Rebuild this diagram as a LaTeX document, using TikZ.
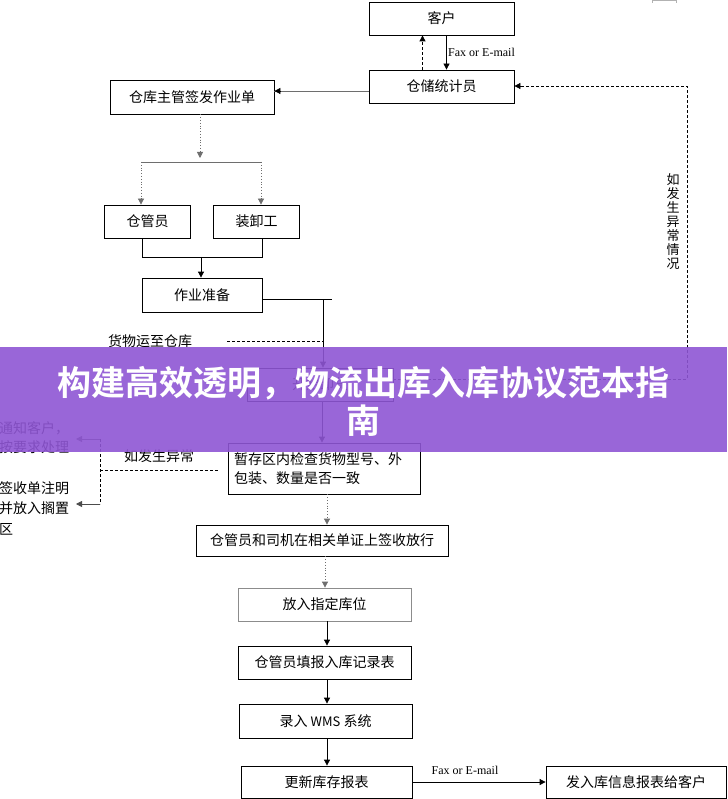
\documentclass[tikz,border=0pt]{standalone}
\usepackage{fontspec}
\setmainfont{Liberation Serif}
\newfontfamily\cjk{Noto Sans CJK SC}
\newfontfamily\cjkbold{Noto Sans CJK SC Bold}
\usetikzlibrary{arrows.meta}
\definecolor{bannerpurple}{RGB}{143,86,212}
\definecolor{linegray}{RGB}{110,110,110}
\begin{document}
\begin{tikzpicture}[x=1pt,y=-1pt,
  box/.style={draw=black,line width=0.8pt,inner sep=0pt,align=center,
    font=\cjk\fontsize{14}{16}\selectfont},
  lbl/.style={inner sep=0pt,font=\cjk\fontsize{14}{16}\selectfont},
  lat/.style={inner sep=0pt,font=\fontsize{12}{14}\selectfont},
  arr/.style={-{Triangle[length=6pt,width=6pt]}},
  solidline/.style={line width=0.8pt,draw=black},
  grayline/.style={line width=0.8pt,draw=linegray},
  dotline/.style={line width=0.8pt,draw=linegray,dotted},
  dashline/.style={line width=0.8pt,draw=black,dash pattern=on 3pt off 2pt}]
\useasboundingbox (0,0) rectangle (727,799);
\fill[white] (0,0) rectangle (727,799);

% small mark top right
\draw[line width=0.6pt,draw=black!30] (652,3) -- (652,0.5) -- (676,0.5) -- (676,3);

% boxes
\node[box,minimum width=145pt,minimum height=33pt] (kehu) at (441.5,18.5) {客户};
\node[box,minimum width=145pt,minimum height=33pt] (tongji) at (441.5,86.5) {仓储统计员};
\node[box,minimum width=164pt,minimum height=34pt] (zhuguan) at (192,97) {仓库主管签发作业单};
\node[box,minimum width=86pt,minimum height=33pt] (cgy) at (147.5,221.5) {仓管员};
\node[box,minimum width=86pt,minimum height=33pt] (zxg) at (256.5,221.5) {装卸工};
\node[box,minimum width=120pt,minimum height=34pt] (zhunbei) at (202,295) {作业准备};
\node[box,minimum width=146pt,minimum height=33pt] (kaishi) at (320,384.5) {开始卸货};
\node[box,minimum width=192pt,minimum height=51pt,text width=180pt,align=left,
  font=\cjk\fontsize{14}{19}\selectfont] (jiancha) at (324,468.5)
  {暂存区内检查货物型号、外\\包装、数量是否一致};
\node[box,minimum width=252pt,minimum height=31pt] (qianshou) at (322,540.5) {仓管员和司机在相关单证上签收放行};
\node[box,draw=black!45,minimum width=173pt,minimum height=33pt] (fangru) at (324.5,604.5) {放入指定库位};
\node[box,minimum width=173pt,minimum height=33pt] (tianbao) at (324.5,662.5) {仓管员填报入库记录表};
\node[box,minimum width=173pt,minimum height=34pt] (luru) at (325.5,721) {录入 {\fontsize{13}{14}\selectfont WMS} 系统};
\node[box,minimum width=171pt,minimum height=32pt] (gengxin) at (326.5,782) {更新库存报表};
\node[box,minimum width=180pt,minimum height=32pt] (fasong) at (636,782) {发入库信息报表给客户};

% customer <-> statistician
\draw[solidline,arr] ([xshift=5pt]kehu.south) -- ([xshift=5pt]tongji.north);
\draw[dashline,arr] ([xshift=-19pt]tongji.north) -- ([xshift=-19pt]kehu.south);
\node[lat,anchor=west] (fax1) at (448,52) {Fax or E-mail};

% statistician -> supervisor
\draw[grayline] (tongji.west |- 0,91) -- (zhuguan.east |- 0,91);
\draw[solidline,arr] ([xshift=6pt]zhuguan.east |- 0,91) -- (zhuguan.east |- 0,91);

% supervisor split
\coordinate (s1) at (200,162);
\coordinate (sl) at (141,162);
\coordinate (sr) at (261,162);
\draw[dotline,arr] (zhuguan.south -| s1) -- (200,158);
\draw[grayline] (sl) -- (sr);
\draw[dotline,arr] (sl) -- (cgy.north -| sl);
\draw[dotline,arr] (sr) -- (zxg.north -| sr);

% join to preparation
\coordinate (jl) at (142,257);
\coordinate (jr) at (262,257);
\draw[solidline] (cgy.south -| jl) -- (jl) -- (jr) -- (zxg.south -| jr);
\draw[solidline,arr] (201,257) -- (zhunbei.north -| 201,0);

% preparation -> unloading
\coordinate (pv) at (323,299);
\draw[solidline] (zhunbei.east |- pv) -- (332,299);
\draw[solidline,arr] (pv) -- (kaishi.north -| pv);
\node[lbl] (yunzhi) at (150,341) {货物运至仓库};
\draw[dashline] (227,341) -- (323,341);

% right loop dashed
\coordinate (rl1) at (687,379);
\coordinate (rl2) at (687,86);
\draw[dashline] (kaishi.east |- rl1) -- (rl1) -- (rl2) -- (tongji.east |- rl2);
\draw[solidline,arr] ([xshift=6pt]tongji.east |- rl2) -- (tongji.east |- rl2);
\node[inner sep=0pt,align=center,font=\cjk\fontsize{13}{14}\selectfont] (ruvert) at (673,222)
  {如\\发\\生\\异\\常\\情\\况};

% unloading -> check
\draw[solidline,arr] (kaishi.south -| 322,0) -- (jiancha.north -| 322,0);

% anomaly branch
\coordinate (av) at (100,470);
\coordinate (a1) at (100,439);
\coordinate (a2) at (100,504);
\node[lbl,anchor=west,align=left,font=\cjk\fontsize{14}{19}\selectfont] (tongzhi) at (-1,437.5) {通知客户，\\按要求处理};
\node[lbl,anchor=north west,align=left,font=\cjk\fontsize{14}{20.5}\selectfont] (qsd) at (-1,481) {签收单注明\\并放入搁置\\区};
\node[lbl] (rufasheng) at (159,456) {如发生异常};
\draw[dashline] ([xshift=-10pt]jiancha.west |- av) -- (av);
\draw[dashline] (a1) -- (a2);
\draw[line width=0.8pt,draw=black!70,arr] (a1) -- (76,439);
\draw[line width=0.8pt,draw=black!70,arr] (a2) -- (76,504);

% main flow down
\draw[dotline,arr] (jiancha.south -| 327,0) -- (qianshou.north -| 327,0);
\draw[dotline,arr] (qianshou.south -| 325,0) -- (fangru.north -| 325,0);
\draw[solidline,arr] (fangru.south -| 327,0) -- (tianbao.north -| 327,0);
\draw[solidline,arr] (tianbao.south -| 327,0) -- (luru.north -| 327,0);
\draw[solidline,arr] (luru.south -| 327,0) -- (gengxin.north -| 327,0);
\draw[solidline,arr] (gengxin.east) -- (fasong.west);
\node[lat] (fax2) at (465,770) {Fax or E-mail};

% banner
\fill[bannerpurple,opacity=0.9] (0,347) rectangle (727,452);
\node[inner sep=0pt,text=white,font=\cjkbold\fontsize{34}{38}\selectfont] (t1) at (363.5,383) {构建高效透明，物流出库入库协议范本指};
\node[inner sep=0pt,text=white,font=\cjkbold\fontsize{34}{38}\selectfont] (t2) at (363.5,421) {南};
\end{tikzpicture}
\end{document}
